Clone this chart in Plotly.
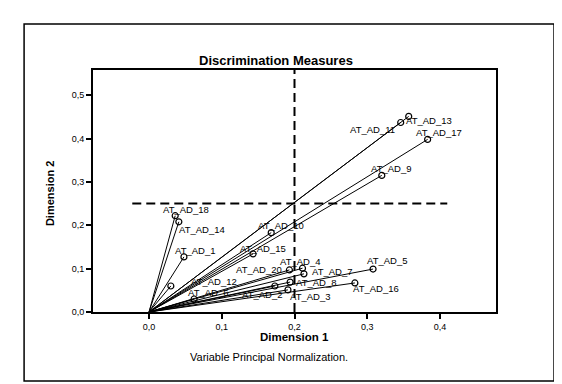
import plotly.graph_objects as go

# ---------------- data ----------------
variables = ["AT_AD_1", "AT_AD_2", "AT_AD_3", "AT_AD_4", "AT_AD_5", "AT_AD_6", "AT_AD_7",
             "AT_AD_8", "AT_AD_9", "AT_AD_10", "AT_AD_11", "AT_AD_12", "AT_AD_13", "AT_AD_14",
             "AT_AD_15", "AT_AD_16", "AT_AD_17", "AT_AD_18", "AT_AD_20"]
dim1 = [0.048, 0.173, 0.191, 0.211, 0.308, 0.062, 0.213,
        0.194, 0.320, 0.168, 0.346, 0.030, 0.357, 0.041,
        0.143, 0.283, 0.383, 0.036, 0.193]
dim2 = [0.127, 0.060, 0.051, 0.101, 0.099, 0.030, 0.088,
        0.069, 0.315, 0.183, 0.437, 0.060, 0.451, 0.208,
        0.134, 0.067, 0.398, 0.222, 0.097]

x_ticks = [0.0, 0.1, 0.2, 0.3, 0.4]
y_ticks = [0.0, 0.1, 0.2, 0.3, 0.4, 0.5]
ref_x = 0.2     # vertical reference line
ref_y = 0.25    # horizontal reference line

title = "Discrimination Measures"
x_title = "Dimension 1"
y_title = "Dimension 2"
note = "Variable Principal Normalization."

# label placement (pixel offsets, anchor) - styling only
label_style = {
    "AT_AD_1": (-11, 6, "left"), "AT_AD_2": (9, -9, "right"), "AT_AD_3": (0, -7, "left"),
    "AT_AD_4": (-25, 7, "left"), "AT_AD_5": (-8, 9, "left"), "AT_AD_6": (-8, 6, "left"),
    "AT_AD_7": (6, 2, "left"), "AT_AD_8": (4, 0, "left"), "AT_AD_9": (-13, 7, "left"),
    "AT_AD_10": (-15, 7, "left"), "AT_AD_11": (-4, -7, "right"), "AT_AD_12": (18, 4, "left"),
    "AT_AD_13": (-5, -4, "left"), "AT_AD_14": (-2, -8, "left"), "AT_AD_15": (-15, 5, "left"),
    "AT_AD_16": (-4, -6, "left"), "AT_AD_17": (-14, 7, "left"), "AT_AD_18": (-14, 6, "left"),
    "AT_AD_20": (-5, 0, "right"),
}

FONT = "Liberation Sans, Arial, sans-serif"

fig = go.Figure()

# vectors from origin
lx, ly = [], []
for a, b in zip(dim1, dim2):
    lx += [0, a, None]
    ly += [0, b, None]
fig.add_trace(go.Scatter(x=lx, y=ly, mode="lines",
                         line=dict(color="black", width=1), hoverinfo="skip",
                         showlegend=False))
# end points
fig.add_trace(go.Scatter(x=dim1, y=dim2, mode="markers", text=variables,
                         marker=dict(symbol="circle-open", size=6, color="black",
                                     line=dict(width=1.2, color="black")),
                         showlegend=False))

annotations = []
for name, a, b in zip(variables, dim1, dim2):
    dx, dy, anc = label_style[name]
    annotations.append(dict(x=a, y=b, xref="x", yref="y", text=name, showarrow=False,
                            xanchor=anc, yanchor="middle", xshift=dx, yshift=dy,
                            font=dict(family=FONT, size=9.5, color="black")))

annotations += [
    dict(text="<b>" + title + "</b>", xref="paper", yref="paper", x=0.454, y=1.041,
         showarrow=False, xanchor="center", yanchor="middle",
         font=dict(family=FONT, size=13, color="black")),
    dict(text="<b>" + x_title + "</b>", xref="paper", yref="paper", x=0.499, y=-0.105,
         showarrow=False, xanchor="center", yanchor="middle",
         font=dict(family=FONT, size=11.5, color="black")),
    dict(text=note, xref="paper", yref="paper", x=0.437, y=-0.188,
         showarrow=False, xanchor="center", yanchor="middle",
         font=dict(family=FONT, size=11, color="black")),
    dict(text="<b>" + y_title + "</b>", xref="paper", yref="paper", x=-0.105, y=0.49,
         showarrow=False, xanchor="center", yanchor="middle", textangle=-90,
         font=dict(family="Liberation Sans Narrow, " + FONT, size=11, color="black")),
]

shapes = [
    # reference lines
    dict(type="line", xref="x", yref="paper", x0=ref_x, x1=ref_x, y0=0, y1=1,
         line=dict(color="black", width=2, dash="9px,5px")),
    dict(type="line", xref="x", yref="y", x0=-0.023, x1=0.41, y0=ref_y, y1=ref_y,
         line=dict(color="black", width=2, dash="9px,5px")),
    # outer border
    dict(type="rect", xref="paper", yref="paper", x0=-0.171, x1=1.144, y0=-0.285, y1=1.190,
         line=dict(color="black", width=1.5)),
]

fig.update_layout(
    width=562, height=384,
    margin=dict(l=85, r=74, t=62, b=80),
    paper_bgcolor="white", plot_bgcolor="white",
    separators=",.",
    font=dict(family=FONT, color="black"),
    annotations=annotations, shapes=shapes,
    xaxis=dict(range=[-0.077, 0.477], tickvals=x_ticks, tickformat=".1f",
               ticks="outside", ticklen=5, tickwidth=1.5, tickcolor="black",
               showline=True, mirror=True, linecolor="black", linewidth=2,
               showgrid=False, zeroline=False,
               tickfont=dict(family=FONT, size=9, color="black")),
    yaxis=dict(range=[0, 0.558], tickvals=y_ticks, tickformat=".1f",
               ticks="outside", ticklen=5, tickwidth=1.5, tickcolor="black",
               showline=True, mirror=True, linecolor="black", linewidth=2,
               showgrid=False, zeroline=False,
               tickfont=dict(family=FONT, size=9, color="black")),
    showlegend=False,
)

fig.write_html("out.html")
